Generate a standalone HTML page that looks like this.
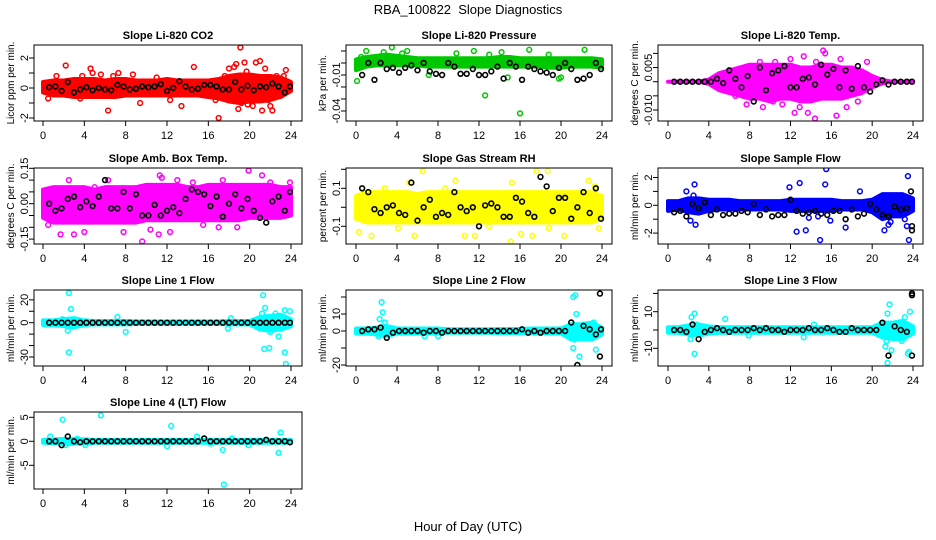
<!DOCTYPE html>
<html><head><meta charset="utf-8"><style>
html,body{margin:0;padding:0;background:#fff;}
svg{display:block;font-family:"Liberation Sans",sans-serif;}
</style></head><body>
<svg id="chart" width="936" height="540" viewBox="0 0 936 540">
<text x="468" y="14" text-anchor="middle" font-size="13">RBA_100822&#160; Slope Diagnostics</text>
<text x="468" y="531" text-anchor="middle" font-size="13">Hour of Day (UTC)</text>
</svg>
<script>
const xTicks=[0,4,8,12,16,20,24];
const bandHours=[0,1,2,3,4,5,6,7,8,9,10,11,12,13,14,15,16,17,18,19,20,21,22,23,24];
const blackHours=[0.6,1.2,1.8,2.4,3,3.6,4.2,4.8,5.4,6,6.6,7.2,7.8,8.4,9,9.6,10.2,10.8,11.4,12,12.6,13.2,13.8,14.4,15,15.6,16.2,16.8,17.4,18,18.6,19.2,19.8,20.4,21,21.6,22.2,22.8,23.4,23.9];
const titles=["Slope Li-820 CO2","Slope Li-820 Pressure","Slope Li-820 Temp.","Slope Amb. Box Temp.","Slope Gas Stream RH","Slope Sample Flow","Slope Line 1 Flow","Slope Line 2 Flow","Slope Line 3 Flow","Slope Line 4 (LT) Flow"];
const yTitles=["Licor ppm per min.","kPa per min.","degrees C per min.","degrees C per min.","percent per min.","ml/min per min.","ml/min per min.","ml/min per min.","ml/min per min.","ml/min per min."];
const colors=["#ff0000","#00c800","#ff00ff","#ff00ff","#ffff00","#0000ff","#00ffff","#00ffff","#00ffff","#00ffff"];
const yTickVals=[[-2,-1,0,1,2],[-0.04,-0.03,-0.02,-0.01,0,0.01],[-0.01,-0.005,0,0.005,0.01],[-0.15,-0.1,-0.05,0,0.05,0.1,0.15],[-0.1,0,0.1,0.2],[-2,-1,0,1,2],[-30,-20,-10,0,10,20],[-20,-10,0,10,20],[-10,0,10,20],[-5,0,5]];
const yTickLabels=[["-2","0","2"],["-0.04","-0.01"],["-0.010","0.005"],["-0.15","0.00","0.15"],["-0.1","0.1"],["-2","0","2"],["-30","0","20"],["-20","0","10"],["-10","10"],["-5","0","5"]];
const yLabelVals=[[-2,0,2],[-0.04,-0.01],[-0.01,0.005],[-0.15,0,0.15],[-0.1,0.1],[-2,0,2],[-30,0,20],[-20,0,10],[-10,10],[-5,0,5]];
const bandHi=[
[0.4,0.5,0.5,0.6,0.6,0.6,0.5,0.6,0.6,0.5,0.5,0.5,0.6,0.5,0.5,0.5,0.5,0.6,0.8,0.9,0.9,0.8,0.8,0.7,0.4],
[0.003,0.005,0.006,0.007,0.006,0.005,0.004,0.004,0.004,0.004,0.004,0.004,0.004,0.004,0.005,0.005,0.004,0.004,0.004,0.004,0.004,0.004,0.004,0.004,0.003],
[0,0,0,0,0.0008,0.003,0.004,0.005,0.006,0.006,0.006,0.006,0.006,0.005,0.005,0.006,0.006,0.005,0.005,0.004,0.002,0.0006,0,0,0],
[0.06,0.07,0.07,0.07,0.07,0.06,0.07,0.07,0.07,0.07,0.08,0.08,0.08,0.08,0.07,0.07,0.08,0.08,0.08,0.08,0.08,0.08,0.08,0.07,0.07],
[0.06,0.08,0.08,0.08,0.08,0.08,0.07,0.08,0.08,0.08,0.08,0.08,0.08,0.08,0.08,0.08,0.08,0.08,0.08,0.08,0.08,0.08,0.08,0.08,0.06],
[0.3,0.3,0.5,0.5,0.4,0.4,0.4,0.3,0.3,0.3,0.3,0.3,0.4,0.4,0.4,0.4,0.4,0.3,0.3,0.3,0.4,0.8,0.8,0.8,0.5],
[2,2,3,4,2,1.5,1.5,1.5,1.5,1,1,1,1,1,1,1,1,1,1.5,1.5,1.5,5,6,7,3],
[1.5,1.5,2,3,1.5,1.5,1.5,1.5,1.5,1,1,1,1,1,1.2,1.2,1.2,1.5,1.5,1.5,1.5,4,4,5,2],
[1.5,1.5,2.5,3,2,1.5,1.5,1.5,1.5,1.5,1.5,1.5,1.5,1.5,1.5,1.5,1.5,1.5,1.5,1.5,1.5,4,4,5,2],
[0.3,0.4,0.5,0.5,0.4,0.3,0.3,0.3,0.3,0.3,0.3,0.3,0.3,0.3,0.3,0.3,0.3,0.3,0.3,0.3,0.3,0.3,0.3,0.3,0.3]];
const bandLo=[
[-0.3,-0.5,-0.5,-0.6,-0.6,-0.6,-0.6,-0.6,-0.5,-0.5,-0.5,-0.5,-0.5,-0.5,-0.5,-0.5,-0.6,-0.7,-0.9,-1,-0.9,-0.9,-0.8,-0.6,-0.2],
[-0.006,-0.003,-0.002,-0.002,-0.002,-0.002,-0.002,-0.003,-0.003,-0.003,-0.003,-0.003,-0.003,-0.003,-0.003,-0.003,-0.003,-0.003,-0.003,-0.004,-0.004,-0.003,-0.003,-0.003,-0.004],
[0,0,0,0,-0.0008,-0.003,-0.004,-0.005,-0.006,-0.006,-0.007,-0.006,-0.006,-0.007,-0.007,-0.006,-0.006,-0.006,-0.005,-0.004,-0.002,-0.0006,0,0,0],
[-0.06,-0.08,-0.08,-0.08,-0.08,-0.08,-0.08,-0.08,-0.08,-0.08,-0.07,-0.07,-0.07,-0.07,-0.07,-0.07,-0.07,-0.07,-0.07,-0.07,-0.06,-0.06,-0.06,-0.06,-0.05],
[-0.06,-0.08,-0.08,-0.08,-0.08,-0.08,-0.08,-0.08,-0.08,-0.08,-0.08,-0.08,-0.08,-0.08,-0.08,-0.08,-0.08,-0.08,-0.08,-0.08,-0.08,-0.08,-0.08,-0.08,-0.06],
[-0.4,-0.3,-0.5,-0.6,-0.4,-0.3,-0.3,-0.3,-0.3,-0.3,-0.3,-0.3,-0.4,-0.4,-0.4,-0.4,-0.4,-0.3,-0.3,-0.3,-0.5,-1,-0.8,-0.8,-0.4],
[-2,-2,-3,-4,-2,-1.5,-1.5,-1.5,-1.5,-1,-1,-1,-1,-1,-1,-1,-1,-1,-1.5,-1.5,-1.5,-6,-7,-6,-3],
[-1.5,-1.5,-2,-3,-1.5,-1.5,-1.5,-1.5,-1.5,-1,-1,-1,-1,-1,-1.2,-1.2,-1.2,-1.5,-1.5,-1.5,-1.5,-5,-5,-5,-2],
[-1.5,-1.5,-2.5,-3,-2,-1.5,-1.5,-1.5,-1.5,-1.5,-1.5,-1.5,-1.5,-1.5,-1.5,-1.5,-1.5,-1.5,-1.5,-1.5,-1.5,-4,-5,-5,-2],
[-0.3,-0.4,-0.6,-0.5,-0.4,-0.3,-0.3,-0.3,-0.3,-0.3,-0.3,-0.3,-0.3,-0.3,-0.3,-0.3,-0.3,-0.3,-0.3,-0.3,-0.3,-0.3,-0.3,-0.3,-0.3]];
const outliers=[
[[0.5,-0.7],[1.3,0.8],[2.2,1.5],[3.6,-0.7],[3.8,0.8],[4.6,1.3],[4.8,1.0],[5.6,0.9],[6.3,-1.5],[6.8,0.8],[7.3,1.0],[8.7,0.9],[9.4,-1.0],[11,0.7],[12.3,-0.8],[13.4,-1.2],[14.6,1.4],[16.7,-0.8],[17,-2.0],[17.6,0.8],[18,1.3],[18.5,1.4],[18.7,1.6],[18.9,-1.4],[19.1,2.7],[19.2,-1.0],[19.5,1.7],[19.7,1.1],[20.3,-1.2],[20.6,1.7],[21,1.8],[21.2,-1.5],[21.5,1.3],[22,-1.2],[22.2,-1.5],[22.6,0.8],[23.3,0.8],[23.5,1.2],[19.8,-1.1],[20.8,0.6],[21.8,-0.8]],
[[0.1,-0.015],[0.5,0.005],[1,0.01],[3.5,0.013],[5,0.01],[8.1,-0.053],[12.6,-0.027],[16,-0.042],[16.9,0.011],[19.8,-0.013],[20,-0.012],[22.3,0.011],[23.9,-0.057],[14.8,-0.012],[9.8,0.008],[11.5,0.01],[7.1,-0.01],[18.8,0.007],[13,0.007],[14.2,0.009],[4.5,0.008],[2.7,0.009]],
[[8.1,0.005],[9,0.007],[10.5,0.007],[11.2,-0.008],[12,0.008],[12.4,-0.011],[12.9,-0.009],[13.3,0.009],[13.7,-0.011],[14.4,-0.013],[14.5,0.007],[15.2,0.011],[15.4,0.010],[16.5,-0.012],[16.9,0.008],[17.5,-0.009],[19.5,0.007],[9.3,-0.009],[7.7,-0.008],[10.3,-0.007],[6.6,-0.005],[18.6,-0.007]],
[[0.5,-0.09],[1.7,-0.13],[3,-0.13],[4,-0.12],[5,0.07],[7.8,-0.12],[9.6,-0.16],[10.4,-0.11],[11.3,0.12],[11.5,0.11],[11.2,-0.13],[12.3,-0.12],[14.5,0.09],[17,-0.1],[17.4,0.1],[19.9,0.14],[21.2,0.12],[22,0.09],[23.9,0.09],[6.3,0.1],[2.5,0.1],[13,0.1],[18.8,-0.1],[15.5,-0.09]],
[[0.3,-0.13],[1.5,-0.15],[2.8,0.1],[5.2,0.13],[5.7,-0.15],[6.5,0.19],[9.7,0.14],[10.6,-0.15],[11.6,-0.15],[13,-0.1],[15.1,-0.18],[15.2,0.13],[16.1,-0.14],[17.2,-0.15],[17.6,0.19],[18.7,0.19],[18.8,-0.11],[20.3,-0.15],[22.7,0.14],[23.3,0.11],[23.7,-0.11],[4.1,-0.11],[8.7,0.1]],
[[1.8,1],[2.2,-1.1],[2.6,1.5],[2.7,-1.4],[2.5,0.7],[11.9,1.3],[12.6,-1.9],[12.9,1.6],[13.5,-1.8],[14.9,-2.5],[15.4,1.5],[15.5,2.6],[15.9,-1.1],[17.4,-1.6],[18.8,1],[21.2,-1.8],[21.6,-1.4],[23.2,-1],[23.5,2.1],[23.6,-2.5],[23.4,-1.5],[21.8,-1.2],[13.8,-0.9],[14.7,-0.8]],
[[2.5,26],[2.5,-26],[2.7,12],[2.4,-7],[7.2,5],[8,-8],[17.9,-5],[18.2,4],[21.3,24],[21.5,13],[21.4,-23],[21.9,-22],[21.2,8],[22.8,-12],[22.5,8],[23.4,-26],[23.5,-36],[23.4,11],[23.9,10],[22,-8],[21.7,-6],[23.2,-4],[1.9,3]],
[[2.5,17],[2.6,11],[2.3,7],[2.2,-3],[2.8,5],[21.2,-10],[21.2,20],[21.4,21],[21.5,10],[21.3,-5],[21.8,-15],[21.6,-20],[22.5,-4],[23.2,5],[23.4,-11],[23.1,-4],[8,-3],[6.7,-3]],
[[2.2,-5],[2.3,7],[2.6,9],[2.6,-13],[2.8,3],[5.6,6],[7.9,-3],[13.3,-4],[14.3,3],[21.3,-9],[21.4,-6],[21.5,9],[21.7,14],[21.5,-18],[21.9,-11],[22.2,-4],[22.5,-3],[22.9,-6],[23.2,7],[23.5,-13],[23.6,-12],[23.7,10],[21.2,3]],
[[0.7,1],[1.9,4.5],[2.2,-0.8],[3.3,0.5],[4.1,-0.8],[5.6,5.4],[12,-1],[12.4,3.2],[14.9,1],[17.4,-1.8],[17.5,-9],[18.3,0.6],[19.9,-0.8],[22.8,-2.4],[23,1.8],[16.2,-0.5]]];
const blackY=[
[0.05,0.1,-0.2,0.4,-0.3,-0.1,0.05,-0.15,0,-0.1,-0.15,0.2,0.1,-0.1,-0.05,0.1,0.05,0.1,0.25,-0.2,0,0.45,0.1,-0.1,-0.05,0.2,0.2,0.1,-0.1,-0.1,0.4,-0.1,0.15,-0.15,0.1,0.05,0.3,0.1,-0.3,0.1],
[-0.01,0,-0.014,0,-0.005,-0.004,-0.008,-0.004,-0.002,-0.006,0,-0.007,-0.009,-0.01,0,-0.003,-0.009,-0.009,-0.005,-0.01,-0.01,-0.007,-0.003,-0.013,0,-0.003,-0.014,-0.003,-0.005,-0.007,-0.008,-0.01,-0.004,0,-0.005,-0.014,-0.013,-0.01,0,-0.005],
[0,0,0,0,0,0,0,0.001,-0.0005,0.004,0.001,-0.002,0.002,-0.007,0.005,-0.003,0.003,0.004,0.0055,-0.002,-0.002,0.001,0.0015,-0.001,0.006,0.0025,0.0045,-0.002,0.004,-0.0025,0.0055,-0.002,-0.0035,-0.001,0.0005,-0.001,0,0,0,0],
[0,-0.03,-0.02,0.02,0.03,-0.015,0.01,-0.01,0.03,0.1,-0.02,-0.02,0.05,-0.02,0.04,-0.05,-0.05,-0.005,-0.05,-0.03,-0.015,-0.04,0.02,0.06,0.05,0.04,-0.01,0.03,-0.055,0,0.04,-0.02,0.02,-0.03,-0.06,-0.08,0.01,0.03,-0.03,0.05],
[0.1,0.08,-0.01,-0.03,0,0.01,-0.03,-0.04,0.13,-0.07,0,0.04,-0.05,-0.03,-0.04,0.08,0,-0.02,0,-0.1,0.01,0.02,0,-0.05,-0.05,0.05,0.03,-0.03,-0.05,0.16,0.11,-0.02,0.05,0.05,-0.06,0,0.08,-0.03,0.1,-0.06],
[-0.5,-0.4,-0.8,0.1,-0.2,0.2,-0.7,-0.3,-0.7,-0.6,-0.6,-0.4,-0.5,0.1,-0.7,-0.3,-0.8,-0.7,-0.7,0.4,-0.4,-0.6,-0.5,-0.4,-0.6,-0.7,-0.4,-0.4,-1,-0.3,-0.8,-0.6,0.1,-0.3,-0.7,-0.8,-0.1,-0.3,-0.2,-1.8],
[0,0,0,0,0,0,0,0,0,0,0,0,0,0,0,0,0,0,0,0,0,0,0,0,0,0,0,0,0,0,0,0,0,0,0,0,0,0,0,0],
[0,1,1,2,-4,-1,0,0,0,0,-1,0,0,-1,0,0,0,0,0,0,0,0,0,0,0,0,1,-1,0,-1,0,0,0,0,5,-20,3,1,-2,1],
[0,0,-1,3,-5,-1,0,1,0,-1,0,0,0,1,0,1,0,0,-1,0,0,0,1,0,0,1,0,-1,-1,1,0,0,0,0,4,-14,2,0,-1,-14],
[0,0,-0.8,1,0,-0.2,0,0,0,0,0,0,0,0,0,0,0,0,0,0,0,0,0,0,0,0.6,0,0,0,0,0,0,0,0,0,0.3,0,0,0,-0.2]];
const blackExtraX=[[],[],[],[],[],[23.8,23.9],[],[23.8,23.8],[23.9,23.9],[]];
const blackExtraY=[[],[],[],[],[],[1,-1.5],[],[22,-15],[20,19],[]];
const cols=[{l:34,r:302,x0:43,x24:291,yt:10,tk:24},{l:346,r:612,x0:356,x24:602,yt:322,tk:336},{l:658,r:923,x0:668,x24:913,yt:634,tk:648}];
const rows=[{t:45,b:121},{t:168,b:244},{t:290,b:366},{t:412,b:489}];
const yMap=[{z:88,s:15},{z:63,s:1200},{z:81.7,s:2830},{z:203.7,s:236},{z:207.3,s:190},{z:205.3,s:13.9},{z:322.7,s:1.143},{z:331,s:1.7},{z:330,s:1.83},{z:441.3,s:4.8}];
const svg=document.getElementById('chart');const NS='http://www.w3.org/2000/svg';
function mk(tag,attrs,parent){const e=document.createElementNS(NS,tag);for(const k in attrs)e.setAttribute(k,attrs[k]);(parent||svg).appendChild(e);return e;}
for(let p=0;p<10;p++){
 const c=cols[p%3],r=rows[Math.floor(p/3)],m=yMap[p];
 const X=h=>c.x0+(c.x24-c.x0)*h/24, Y=v=>m.z-m.s*v;
 const g=mk('g',{});
 
 
 const clip=mk('clipPath',{id:'cp'+p},g);mk('rect',{x:c.l,y:r.t,width:c.r-c.l,height:r.b-r.t},clip);
 const t=mk('text',{x:(c.l+c.r)/2,y:r.t-6,'text-anchor':'middle','font-size':11,'font-weight':'bold'},g);t.textContent=titles[p];
 
 
 const pts=bandHours.map((h,i)=>X(h)+','+Y(bandHi[p][i])).concat(bandHours.map((h,i)=>X(h)+','+Y(bandLo[p][i])).reverse());
 const band=mk('polygon',{points:pts.join(' '),fill:colors[p],stroke:colors[p],'stroke-width':4,'stroke-linejoin':'round','clip-path':'url(#cp'+p+')'},g);
 
 
 outliers[p].forEach(o=>{const ci=mk('circle',{cx:X(o[0]),cy:Y(o[1]),r:2.4,fill:'none',stroke:colors[p],'stroke-width':1.5,'clip-path':'url(#cp'+p+')'},g);
  
  });
 const bx=blackHours.concat(blackExtraX[p]),by=blackY[p].concat(blackExtraY[p]);
 bx.forEach((h,i)=>{const ci=mk('circle',{cx:X(h),cy:Y(by[i]),r:2.4,fill:'none',stroke:'#000','stroke-width':1.6,'clip-path':'url(#cp'+p+')'},g);
  
  });
 mk('rect',{x:c.l,y:r.t,width:c.r-c.l,height:r.b-r.t,fill:'none',stroke:'#000','stroke-width':1},g);
 mk('line',{x1:X(0),x2:X(24),y1:r.b,y2:r.b,stroke:'#000'},g);
 xTicks.forEach(h=>{mk('line',{x1:X(h),x2:X(h),y1:r.b,y2:r.b+5,stroke:'#000'},g);
  const tl=mk('text',{x:X(h),y:r.b+18,'text-anchor':'middle','font-size':11},g);tl.textContent=h;
  
  });
 yTickVals[p].forEach(v=>mk('line',{x1:c.l-5,x2:c.l,y1:Y(v),y2:Y(v),stroke:'#000'},g));
 yLabelVals[p].forEach((v,i)=>{const tl=mk('text',{x:0,y:0,'text-anchor':'middle','font-size':11,transform:'translate('+(c.tk+4)+','+Y(v)+') rotate(-90)'},g);tl.textContent=yTickLabels[p][i];
  
  });
 const yt=mk('text',{x:0,y:0,'text-anchor':'middle','font-size':10,transform:'translate('+(c.yt+4)+','+(r.t+r.b)/2+') rotate(-90)'},g);yt.textContent=yTitles[p];
 
 
}
</script>
</body></html>
